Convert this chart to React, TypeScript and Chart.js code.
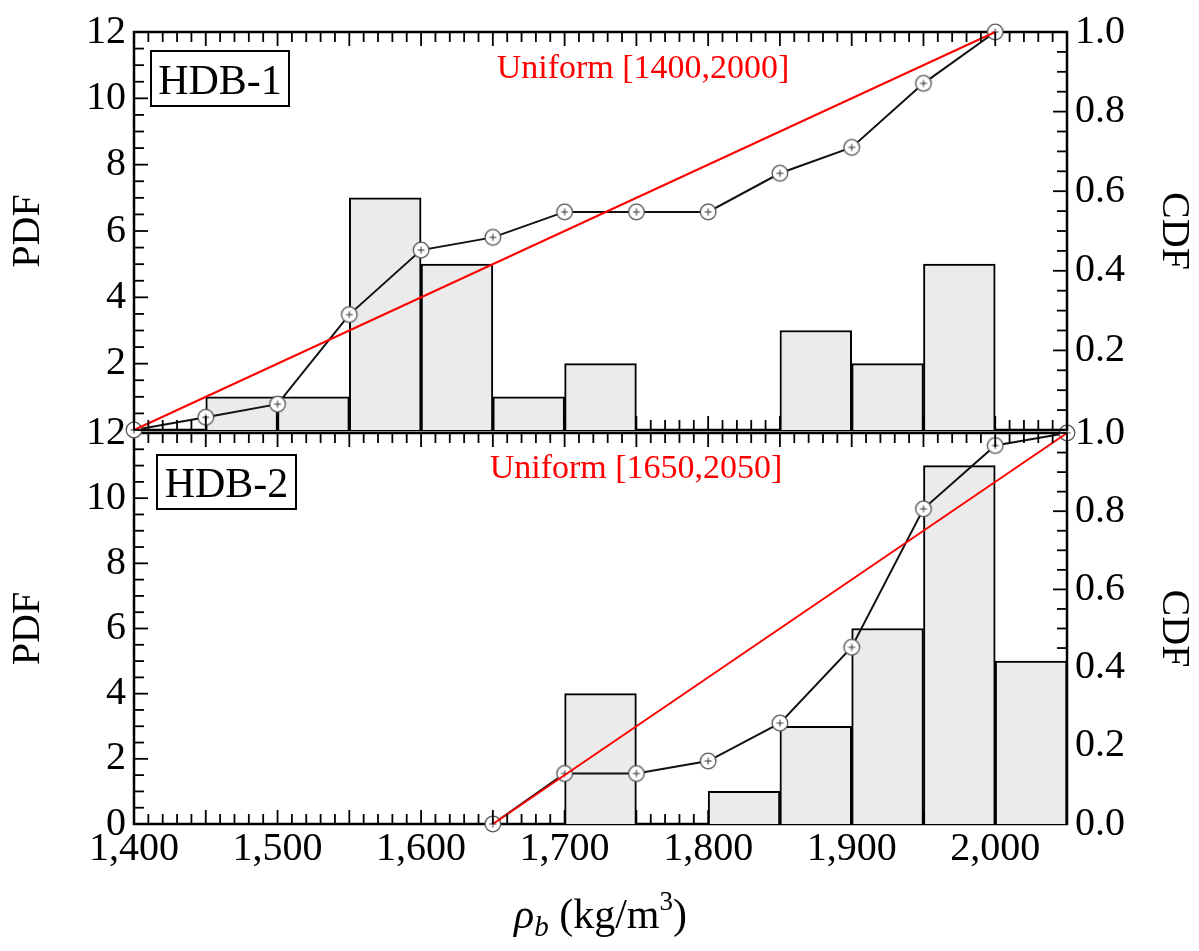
import React, { useEffect, useRef } from 'react';
import { Chart, registerables } from 'chart.js';

Chart.register(...registerables);

const FONT = '"Liberation Serif", "Times New Roman", serif';

// Histogram bins (50 kg/m3 wide): centres and PDF heights (empty bins omitted)
const binCentersHDB1 = [1475, 1525, 1575, 1625, 1675, 1725, 1875, 1925, 1975];
const pdfHDB1 = [1, 1, 7, 5, 1, 2, 3, 2, 5];
const binCentersHDB2 = [1725, 1825, 1875, 1925, 1975, 2025];
const pdfHDB2 = [4, 1, 3, 6, 11, 5];

// Empirical CDF points
const cdfX1 = [1400, 1450, 1500, 1550, 1600, 1650, 1700, 1750, 1800, 1850, 1900, 1950, 2000];
const cdfHDB1 = [0, 0.032, 0.065, 0.29, 0.452, 0.484, 0.548, 0.548, 0.548, 0.645, 0.71, 0.871, 1.0];
const cdfX2 = [1650, 1700, 1750, 1800, 1850, 1900, 1950, 2000, 2050];
const cdfHDB2 = [0, 0.129, 0.129, 0.161, 0.258, 0.452, 0.806, 0.968, 1.0];

// Uniform CDFs
const uniX1 = [1400, 2000];
const uniX2 = [1650, 2050];
const uniY = [0, 1];

// Tick labels
const xTickValues = [1400, 1500, 1600, 1700, 1800, 1900, 2000];
const xTickLabels = ['1,400', '1,500', '1,600', '1,700', '1,800', '1,900', '2,000'];
const pdfTickValues = [0, 2, 4, 6, 8, 10, 12];
const pdfTickLabels = ['0', '2', '4', '6', '8', '10', '12'];
const cdfTickValues = [0, 0.2, 0.4, 0.6, 0.8, 1.0];
const cdfTickLabels = ['0.0', '0.2', '0.4', '0.6', '0.8', '1.0'];

type PanelCfg = {
  binX: number[];
  pdf: number[];
  cdfX: number[];
  cdfY: number[];
  uniX: number[];
  name: string;
  uniformLabel: string;
  padTop: number;
  xHeight: number;
  bottomPanel: boolean;
  box: { dx: number; dy: number; w: number; h: number };
  uni: { x: number; y: number };
};

function makeMarker(): HTMLCanvasElement {
  const c = document.createElement('canvas');
  c.width = 20;
  c.height = 20;
  const g = c.getContext('2d')!;
  g.beginPath();
  g.arc(10, 10, 7.8, 0, Math.PI * 2);
  g.fillStyle = '#ffffff';
  g.fill();
  g.lineWidth = 1.3;
  g.strokeStyle = '#555555';
  g.stroke();
  g.beginPath();
  g.moveTo(6.5, 10);
  g.lineTo(13.5, 10);
  g.moveTo(10, 6.5);
  g.lineTo(10, 13.5);
  g.strokeStyle = '#333333';
  g.lineWidth = 1;
  g.stroke();
  return c;
}

function drawTicks(chart: any) {
  const ctx: CanvasRenderingContext2D = chart.ctx;
  const ca = chart.chartArea;
  const xs = chart.scales['x'];
  const yp = chart.scales['yPdf'];
  const yc = chart.scales['yCdf'];
  // bar rectangles (ticks hidden behind bars, as in the original)
  const barMeta = chart.getDatasetMeta(2);
  const rects = (barMeta.data || []).map((b: any) => {
    const p = b.getProps(['x', 'y', 'base', 'width'], true);
    return { l: p.x - p.width / 2, r: p.x + p.width / 2, t: Math.min(p.y, p.base), b: Math.max(p.y, p.base) };
  });
  const hidden = (x: number, y: number) => rects.some((r: any) => x > r.l + 1 && x < r.r - 1 && y > r.t + 1 && y < r.b + 3);

  ctx.save();
  ctx.strokeStyle = '#000000';
  ctx.lineWidth = 1.8;
  for (let i = 0; i <= 65; i++) {
    const px = xs.getPixelForValue(1400 + i * 10);
    const len = i % 5 === 0 ? 14 : 10;
    ctx.beginPath();
    ctx.moveTo(px, ca.top);
    ctx.lineTo(px, ca.top + len);
    ctx.stroke();
    if (!hidden(px, ca.bottom - 3)) {
      ctx.beginPath();
      ctx.moveTo(px, ca.bottom);
      ctx.lineTo(px, ca.bottom - len);
      ctx.stroke();
    }
  }
  for (let i = 0; i <= 24; i++) {
    const py = yp.getPixelForValue(i * 0.5);
    const len = i % 4 === 0 ? 14 : 10;
    if (hidden(ca.left + 3, py)) continue;
    ctx.beginPath();
    ctx.moveTo(ca.left, py);
    ctx.lineTo(ca.left + len, py);
    ctx.stroke();
  }
  for (let i = 0; i <= 20; i++) {
    const py = yc.getPixelForValue(i * 0.05);
    const len = i % 4 === 0 ? 14 : 10;
    if (hidden(ca.right - 3, py)) continue;
    ctx.beginPath();
    ctx.moveTo(ca.right, py);
    ctx.lineTo(ca.right - len, py);
    ctx.stroke();
  }
  ctx.restore();
}

function drawFrame(chart: any) {
  const ctx: CanvasRenderingContext2D = chart.ctx;
  const ca = chart.chartArea;
  ctx.save();
  ctx.strokeStyle = '#000000';
  ctx.lineWidth = 2.5;
  ctx.strokeRect(ca.left, ca.top, ca.right - ca.left, ca.bottom - ca.top);
  ctx.restore();
}

function buildChart(canvas: HTMLCanvasElement, cfg: PanelCfg) {
  const marker = makeMarker();

  const framePlugin = {
    id: 'frameTicks',
    beforeDatasetsDraw(chart: any) {
      drawFrame(chart);
    },
    afterDraw(chart: any) {
      drawTicks(chart);
      const ctx = chart.ctx;
      const ca = chart.chartArea;
      ctx.save();
      const bx = ca.left + cfg.box.dx;
      const by = ca.top + cfg.box.dy;
      ctx.fillStyle = '#ffffff';
      ctx.fillRect(bx, by, cfg.box.w, cfg.box.h);
      ctx.strokeStyle = '#000';
      ctx.lineWidth = 2;
      ctx.strokeRect(bx, by, cfg.box.w, cfg.box.h);
      ctx.fillStyle = '#000';
      ctx.font = `42px ${FONT}`;
      ctx.textAlign = 'center';
      ctx.textBaseline = 'alphabetic';
      ctx.fillText(cfg.name, bx + cfg.box.w / 2, by + cfg.box.h / 2 + 15);
      ctx.fillStyle = '#ff0000';
      ctx.font = `34px ${FONT}`;
      ctx.fillText(cfg.uniformLabel, cfg.uni.x, cfg.uni.y);
      if (cfg.bottomPanel) {
        const parts = [
          { t: 'ρ', font: `italic 42px ${FONT}`, dy: 0 },
          { t: 'b', font: `italic 29px ${FONT}`, dy: 8 },
          { t: ' (kg/m', font: `42px ${FONT}`, dy: 0 },
          { t: '3', font: `27px ${FONT}`, dy: -18 },
          { t: ')', font: `42px ${FONT}`, dy: 0 },
        ];
        ctx.fillStyle = '#000';
        ctx.textAlign = 'left';
        let total = 0;
        const widths = parts.map((p) => {
          ctx.font = p.font;
          const w = ctx.measureText(p.t).width;
          total += w;
          return w;
        });
        let x = (ca.left + ca.right) / 2 - total / 2;
        const base = 928;
        parts.forEach((p, i) => {
          ctx.font = p.font;
          ctx.fillText(p.t, x, base + p.dy);
          x += widths[i];
        });
      }
      ctx.restore();
    },
  };

  const tickFont = { family: FONT, size: 40 };
  const titleFont = { family: FONT, size: 40 };

  return new Chart(canvas, {
    type: 'bar',
    data: {
      datasets: [
        {
          type: 'line',
          data: cfg.uniX.map((x, i) => ({ x, y: uniY[i] })),
          yAxisID: 'yCdf',
          borderColor: '#ff0000',
          borderWidth: 2,
          pointRadius: 0,
          tension: 0,
          fill: false,
          clip: false,
        } as any,
        {
          type: 'line',
          data: cfg.cdfX.map((x, i) => ({ x, y: cfg.cdfY[i] })),
          yAxisID: 'yCdf',
          borderColor: '#111111',
          borderWidth: 2,
          pointStyle: marker,
          pointRadius: 8,
          tension: 0,
          fill: false,
          clip: false,
        } as any,
        {
          type: 'bar',
          data: cfg.binX.map((x, i) => ({ x, y: cfg.pdf[i] })),
          yAxisID: 'yPdf',
          backgroundColor: '#ebebeb',
          borderColor: '#000000',
          borderWidth: 2,
          barPercentage: 1,
          categoryPercentage: 1,
        } as any,
      ],
    },
    options: {
      responsive: false,
      animation: false,
      devicePixelRatio: 1,
      events: [],
      layout: { padding: { top: cfg.padTop, left: 0, right: 0, bottom: 0 } },
      plugins: { legend: { display: false }, tooltip: { enabled: false }, title: { display: false } },
      scales: {
        x: {
          type: 'linear',
          min: 1400,
          max: 2050,
          offset: false,
          afterBuildTicks: (s: any) => {
            s.ticks = xTickValues.map((v) => ({ value: v }));
          },
          afterFit: (s: any) => {
            s.height = cfg.xHeight;
          },
          ticks: {
            display: cfg.bottomPanel,
            autoSkip: false,
            maxRotation: 0,
            minRotation: 0,
            padding: 1,
            color: '#000',
            font: tickFont,
            callback: (v: any) => {
              const i = xTickValues.indexOf(Number(v));
              return i >= 0 ? xTickLabels[i] : '';
            },
          },
          grid: { display: false, drawTicks: false },
          border: { display: false },
        },
        yPdf: {
          type: 'linear',
          position: 'left',
          min: 0,
          max: 12,
          afterBuildTicks: (s: any) => {
            s.ticks = pdfTickValues.map((v) => ({ value: v }));
          },
          afterFit: (s: any) => {
            s.width = 134;
          },
          ticks: {
            autoSkip: false,
            padding: 8,
            color: '#000',
            font: tickFont,
            callback: (v: any) => {
              const i = pdfTickValues.indexOf(Number(v));
              if (i < 0) return '';
              if (!cfg.bottomPanel && i === 0) return '';
              return pdfTickLabels[i];
            },
          },
          title: { display: true, text: 'PDF', color: '#000', font: titleFont, padding: { top: 4, bottom: 0 } },
          grid: { display: false, drawTicks: false },
          border: { display: false },
        },
        yCdf: {
          type: 'linear',
          position: 'right',
          min: 0,
          max: 1,
          afterBuildTicks: (s: any) => {
            s.ticks = cdfTickValues.map((v) => ({ value: v }));
          },
          afterFit: (s: any) => {
            s.width = 132;
          },
          ticks: {
            autoSkip: false,
            padding: 8,
            color: '#000',
            font: tickFont,
            callback: (v: any) => {
              const i = cdfTickValues.indexOf(Number(v));
              if (i < 0) return '';
              if (!cfg.bottomPanel && i === 0) return '';
              return cdfTickLabels[i];
            },
          },
          title: { display: true, text: 'CDF', color: '#000', font: titleFont, padding: { top: 2, bottom: 0 } },
          grid: { display: false, drawTicks: false },
          border: { display: false },
        },
      },
    } as any,
    plugins: [framePlugin],
  });
}

const topCfg: PanelCfg = {
  binX: binCentersHDB1,
  pdf: pdfHDB1,
  cdfX: cdfX1,
  cdfY: cdfHDB1,
  uniX: uniX1,
  name: 'HDB-1',
  uniformLabel: 'Uniform [1400,2000]',
  padTop: 32,
  xHeight: 951 - 430,
  bottomPanel: false,
  box: { dx: 17, dy: 19, w: 138, h: 55 },
  uni: { x: 643, y: 78 },
};

const bottomCfg: PanelCfg = {
  binX: binCentersHDB2,
  pdf: pdfHDB2,
  cdfX: cdfX2,
  cdfY: cdfHDB2,
  uniX: uniX2,
  name: 'HDB-2',
  uniformLabel: 'Uniform [1650,2050]',
  padTop: 433,
  xHeight: 951 - 824,
  bottomPanel: true,
  box: { dx: 23, dy: 22, w: 139, h: 54 },
  uni: { x: 636, y: 478 },
};

export default function App() {
  const topRef = useRef<HTMLCanvasElement>(null);
  const botRef = useRef<HTMLCanvasElement>(null);

  useEffect(() => {
    const c1 = buildChart(topRef.current!, topCfg);
    const c2 = buildChart(botRef.current!, bottomCfg);
    return () => {
      c1.destroy();
      c2.destroy();
    };
  }, []);

  const style: React.CSSProperties = { position: 'absolute', left: 0, top: 0, width: 1199, height: 951 };
  return (
    <div style={{ position: 'absolute', left: 0, top: 0, width: 1199, height: 951, background: '#fff' }}>
      <canvas ref={botRef} width={1199} height={951} style={style} />
      <canvas ref={topRef} width={1199} height={951} style={style} />
    </div>
  );
}
